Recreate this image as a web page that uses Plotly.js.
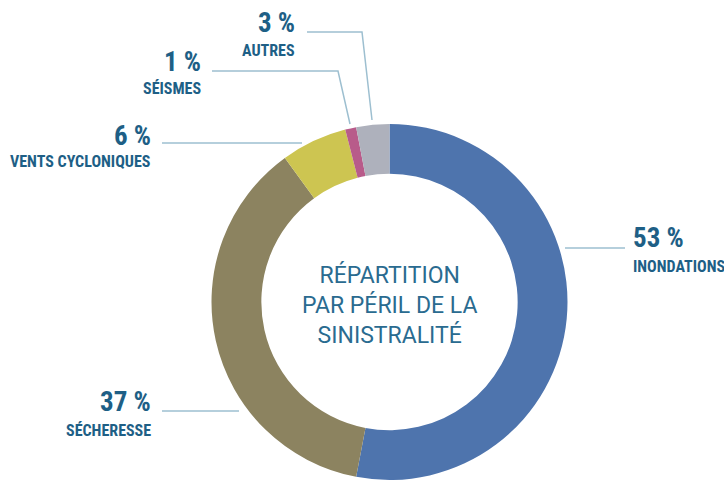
<!DOCTYPE html>
<html>
<head>
<meta charset="utf-8">
<script src="https://cdn.plot.ly/plotly-3.0.1.min.js"></script>
<style>
  html, body { margin: 0; padding: 0; background: #fff; }
  #chart { width: 724px; height: 488px; }
</style>
</head>
<body>
<div id="chart"></div>
<script>
// Répartition par péril de la sinistralité (clockwise from 12 o'clock)
var categories = ['INONDATIONS', 'SÉCHERESSE', 'VENTS CYCLONIQUES', 'SÉISMES', 'AUTRES'];
var shares     = [53, 37, 6, 1, 3];
var centerLabel = ['RÉPARTITION', 'PAR PÉRIL DE LA', 'SINISTRALITÉ'];

var W = 724, H = 488;
var sliceColors = ['#4e74ad', '#8c8360', '#cdc551', '#b85b8a', '#aeb1bc'];
var textColor = '#1e5f86';
var leaderColor = '#9dbfd0';
var labelFont = 'Liberation Sans Narrow, Roboto Condensed, Roboto, sans-serif';

// pixel -> paper helpers (margins are zero)
function px(x) { return x / W; }
function py(y) { return 1 - y / H; }

// donut geometry in pixels
var cx = 389.5, cy = 302, rad = 178;

// label placement and leader polylines, in pixels
var labelPos = {
  'INONDATIONS':       {x: 631, yPct: 238, yName: 266, anchor: 'left',
                        line: [[565, 248], [625, 248]]},
  'SÉCHERESSE':        {x: 153, yPct: 402, yName: 430, anchor: 'right',
                        line: [[162, 411], [239, 411]]},
  'VENTS CYCLONIQUES': {x: 153, yPct: 136, yName: 161, anchor: 'right',
                        line: [[162, 143], [302, 143]]},
  'SÉISMES':           {x: 203, yPct: 62, yName: 89, anchor: 'right',
                        line: [[212, 71], [338, 71], [350, 124]]},
  'AUTRES':            {x: 297, yPct: 23, yName: 50, anchor: 'right',
                        line: [[307, 32], [362, 32], [372, 120]]}
};

var trace = {
  type: 'pie',
  labels: categories,
  values: shares,
  sort: false,
  direction: 'clockwise',
  rotation: 0,
  hole: 0.72,
  textinfo: 'none',
  hoverinfo: 'label+value',
  marker: {colors: sliceColors, line: {width: 0}},
  domain: {x: [px(cx - rad), px(cx + rad)], y: [py(cy + rad), py(cy - rad)]},
  showlegend: false
};

var annotations = [];
var shapes = [];
categories.forEach(function (cat, i) {
  var p = labelPos[cat];
  annotations.push({
    xref: 'paper', yref: 'paper', x: px(p.x), y: py(p.yPct),
    xanchor: p.anchor, yanchor: 'middle', showarrow: false,
    text: '<b>' + shares[i] + ' %</b>',
    font: {family: labelFont, size: 27, color: textColor}
  });
  annotations.push({
    xref: 'paper', yref: 'paper', x: px(p.x), y: py(p.yName),
    xanchor: p.anchor, yanchor: 'middle', showarrow: false,
    text: '<b>' + cat + '</b>',
    font: {family: labelFont, size: 16, color: textColor}
  });
  var pts = p.line;
  var path = 'M ' + pts.map(function (q) { return px(q[0]) + ' ' + py(q[1]); }).join(' L ');
  shapes.push({type: 'path', xref: 'paper', yref: 'paper', path: path,
               line: {color: leaderColor, width: 1.5}});
});

annotations.push({
  xref: 'paper', yref: 'paper', x: px(cx), y: py(305),
  xanchor: 'center', yanchor: 'middle', showarrow: false,
  text: centerLabel.join('<br>'),
  font: {family: 'Roboto, sans-serif', size: 23, color: '#2a6b90'}
});

var layout = {
  width: W, height: H,
  margin: {l: 0, r: 0, t: 0, b: 0},
  paper_bgcolor: 'white', plot_bgcolor: 'white',
  showlegend: false,
  annotations: annotations,
  shapes: shapes
};

Plotly.newPlot('chart', [trace], layout, {displayModeBar: false, staticPlot: true});
</script>
</body>
</html>
